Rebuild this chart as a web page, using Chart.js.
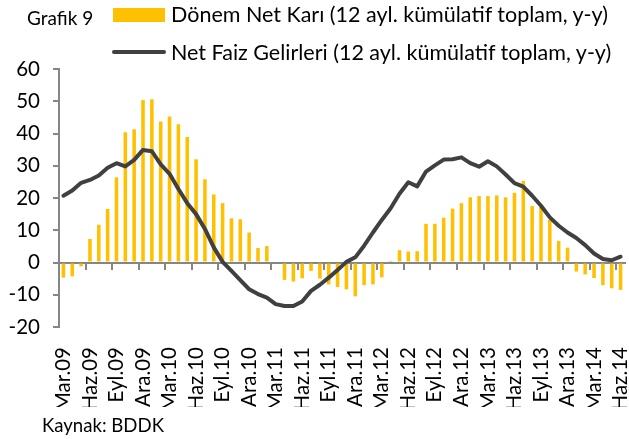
<!DOCTYPE html>
<html>
<head>
<meta charset="utf-8">
<script src="https://cdn.jsdelivr.net/npm/chart.js@4/dist/chart.umd.min.js"></script>
<style>
  body { margin: 0; background: #fff; }
  #wrap { position: relative; width: 629px; height: 439px; font-family: Lato, sans-serif; color: #000; }
  #wrap canvas { position: absolute; left: 0; top: 0; }
  .txt { position: absolute; white-space: nowrap; line-height: 1; }
  #grafik { left: 27px; top: 8px; font-size: 19px; }
  #sw1 { position: absolute; left: 113px; top: 8px; width: 52px; height: 14px; background: #FFC000; }
  #sw2 { position: absolute; left: 112px; top: 50px; width: 54px; height: 4px; background: #404040; border-radius: 2px; }
  #lg1 { left: 171px; top: 4px; font-size: 21.5px; }
  #lg2 { left: 171px; top: 42px; font-size: 21.5px; }
  #src { left: 42px; top: 416px; font-size: 18.6px; }
</style>
</head>
<body>
<div id="wrap">
  <canvas id="chart" width="629" height="439"></canvas>
  <div class="txt" id="grafik">Grafik 9</div>
  <div id="sw1"></div>
  <div class="txt" id="lg1">Dönem Net Karı (12 ayl. kümülatif toplam, y-y)</div>
  <div id="sw2"></div>
  <div class="txt" id="lg2">Net Faiz Gelirleri (12 ayl. kümülatif toplam, y-y)</div>
  <div class="txt" id="src">Kaynak: BDDK</div>
</div>
<script>
var months = [
  'Mar.09', 'Nis.09', 'May.09', 'Haz.09', 'Tem.09', 'Ağu.09', 'Eyl.09', 'Eki.09', 'Kas.09', 'Ara.09',
  'Oca.10', 'Şub.10', 'Mar.10', 'Nis.10', 'May.10', 'Haz.10', 'Tem.10', 'Ağu.10', 'Eyl.10', 'Eki.10', 'Kas.10', 'Ara.10',
  'Oca.11', 'Şub.11', 'Mar.11', 'Nis.11', 'May.11', 'Haz.11', 'Tem.11', 'Ağu.11', 'Eyl.11', 'Eki.11', 'Kas.11', 'Ara.11',
  'Oca.12', 'Şub.12', 'Mar.12', 'Nis.12', 'May.12', 'Haz.12', 'Tem.12', 'Ağu.12', 'Eyl.12', 'Eki.12', 'Kas.12', 'Ara.12',
  'Oca.13', 'Şub.13', 'Mar.13', 'Nis.13', 'May.13', 'Haz.13', 'Tem.13', 'Ağu.13', 'Eyl.13', 'Eki.13', 'Kas.13', 'Ara.13',
  'Oca.14', 'Şub.14', 'Mar.14', 'Nis.14', 'May.14', 'Haz.14'
];

// Dönem Net Karı (bars)
var netProfit = [
  -4.7, -4.3, -1.2, 7.3, 11.7, 16.6, 26.4, 40.4, 41.3, 50.4,
  50.6, 43.7, 45.3, 42.9, 38.9, 32.0, 25.8, 21.1, 18.4, 13.7,
  13.4, 9.3, 4.5, 5.1, 0, -5.4, -5.9, -4.9, -2.6, -5.0,
  -6.8, -7.6, -8.3, -10.5, -7.0, -6.8, -4.6, 0.5, 3.8, 3.4,
  3.5, 12.0, 12.0, 13.9, 16.7, 18.4, 20.2, 20.6, 20.6, 20.8,
  20.2, 21.6, 25.3, 17.5, 17.1, 13.2, 6.7, 4.6, -2.8, -3.7,
  -4.8, -7.0, -8.0, -8.5
];

// Net Faiz Gelirleri (line)
var netInterest = [
  20.7, 22.3, 24.7, 25.6, 27.0, 29.4, 30.8, 29.8, 31.8, 34.9,
  34.5, 30.4, 27.5, 22.8, 18.4, 15.0, 10.4, 4.7, 0.2, -2.6,
  -5.5, -8.3, -9.8, -10.9, -12.9, -13.5, -13.5, -12.1, -8.8, -6.9,
  -4.7, -2.3, 0.2, 1.6, 5.2, 9.3, 13.2, 16.8, 21.3, 24.9,
  23.6, 28.2, 30.1, 31.9, 32.0, 32.6, 30.8, 29.7, 31.4, 29.8,
  27.3, 24.6, 23.5, 20.7, 17.6, 14.0, 11.4, 9.3, 7.6, 5.4,
  2.8, 1.1, 0.7, 1.8
];

var axisGray = '#868686';
var fontFamily = 'Lato, sans-serif';

// keep the plot edges fixed, rotated labels must not shrink the area
function noSidePadding(scale) {
  scale.paddingLeft = 0;
  scale.paddingRight = 0;
}

new Chart(document.getElementById('chart').getContext('2d'), {
  data: {
    labels: months,
    datasets: [
      {
        type: 'line',
        label: 'Net Faiz Gelirleri (12 ayl. kümülatif toplam, y-y)',
        data: netInterest,
        borderColor: '#404040',
        borderWidth: 4,
        pointRadius: 0,
        tension: 0,
        borderJoinStyle: 'round',
        borderCapStyle: 'round',
        order: 0
      },
      {
        type: 'bar',
        label: 'Dönem Net Karı (12 ayl. kümülatif toplam, y-y)',
        data: netProfit,
        backgroundColor: '#FFC000',
        barPercentage: 0.4,
        categoryPercentage: 1,
        order: 1
      }
    ]
  },
  options: {
    responsive: false,
    animation: false,
    layout: { padding: { left: 0, right: 4, top: 69, bottom: 32 } },
    plugins: {
      legend: { display: false },
      tooltip: { enabled: false }
    },
    scales: {
      x: {
        type: 'category',
        position: { y: 0 },
        offset: true,
        grid: {
          offset: true,
          drawOnChartArea: false,
          tickLength: 6,
          lineWidth: 2,
          color: function (ctx) { return ctx.index % 3 === 0 ? axisGray : 'rgba(0,0,0,0)'; }
        },
        border: { color: axisGray, width: 2 },
        ticks: { display: false },
        afterFit: noSidePadding
      },
      xl: {
        type: 'category',
        axis: 'x',
        position: 'bottom',
        offset: true,
        grid: { display: false },
        border: { display: false },
        ticks: {
          autoSkip: false,
          minRotation: 90,
          maxRotation: 90,
          padding: 12,
          color: '#000',
          font: { family: fontFamily, size: 20.5 },
          callback: function (v, i) { return i % 3 === 0 ? months[i] : ''; }
        },
        afterFit: function (scale) {
          scale.height = 80;
          noSidePadding(scale);
        }
      },
      y: {
        min: -20,
        max: 60,
        ticks: {
          stepSize: 10,
          padding: 13,
          color: '#000',
          font: { family: fontFamily, size: 20.5 }
        },
        grid: {
          drawOnChartArea: false,
          tickLength: 6,
          lineWidth: 2,
          color: axisGray
        },
        border: { color: axisGray, width: 2 },
        afterFit: function (scale) { scale.width = 59; }
      }
    }
  }
});
</script>
</body>
</html>
